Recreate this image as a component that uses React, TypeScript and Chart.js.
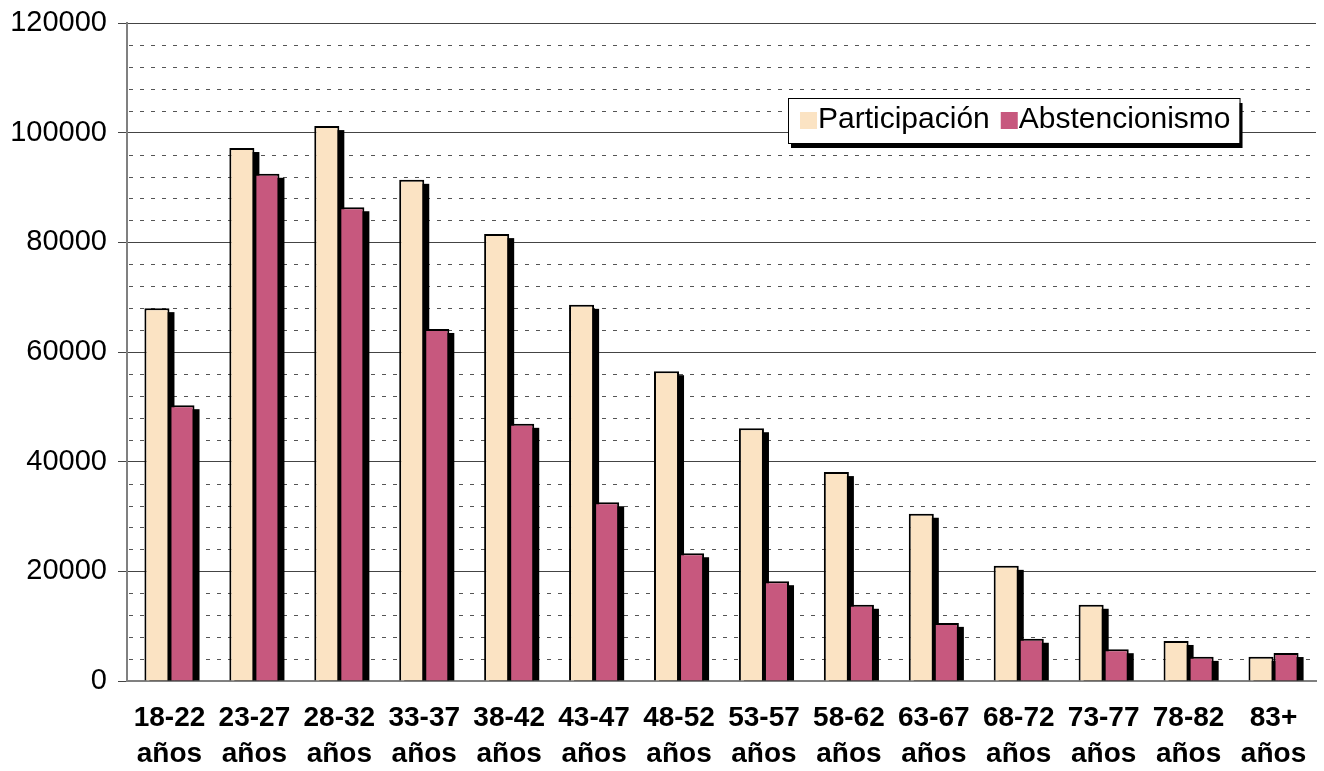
import { useEffect, useRef } from 'react';
import { Chart, registerables } from 'chart.js';

Chart.register(...registerables);

const categories: string[][] = [
  ['18-22', 'años'], ['23-27', 'años'], ['28-32', 'años'], ['33-37', 'años'],
  ['38-42', 'años'], ['43-47', 'años'], ['48-52', 'años'], ['53-57', 'años'],
  ['58-62', 'años'], ['63-67', 'años'], ['68-72', 'años'], ['73-77', 'años'],
  ['78-82', 'años'], ['83+', 'años'],
];
const participacion = [68000, 97200, 101200, 91400, 81500, 68600, 56500, 46100, 38100, 30500, 21000, 13900, 7300, 4400];
const abstencionismo = [50300, 92500, 86400, 64200, 46900, 32600, 23300, 18200, 13900, 10600, 7700, 5800, 4400, 5100];
const seriesNames = ['Participación', 'Abstencionismo'];
const seriesColors = ['#FBE3C3', '#C7587E'];
const yMin = 0;
const yMax = 120000;
const yMajorStep = 20000;
const yMinorStep = 4000;

const FONT = '"Liberation Sans", Arial, sans-serif';

const minorGridPlugin = {
  id: 'minorGrid',
  beforeDatasetsDraw(chart: any) {
    const { ctx, chartArea } = chart;
    const y = chart.scales.y;
    ctx.save();
    ctx.strokeStyle = '#555';
    ctx.lineWidth = 1;
    ctx.setLineDash([4, 7]);
    for (let v = yMin + yMinorStep; v < yMax; v += yMinorStep) {
      if (v % yMajorStep === 0) continue;
      const py = Math.round(y.getPixelForValue(v)) + 0.5;
      ctx.beginPath();
      ctx.moveTo(chartArea.left + 2, py);
      ctx.lineTo(chartArea.right, py);
      ctx.stroke();
    }
    ctx.restore();
  },
};

const shadowPlugin = {
  id: 'barShadow',
  beforeDatasetsDraw(chart: any) {
    const ctx = chart.ctx;
    ctx.save();
    ctx.fillStyle = '#000';
    chart.data.datasets.forEach((_d: any, i: number) => {
      const meta = chart.getDatasetMeta(i);
      meta.data.forEach((el: any) => {
        const { x, y, base, width } = el.getProps(['x', 'y', 'base', 'width'], true);
        const left = x - width / 2 + 5;
        const top = Math.min(y, base) + 4;
        const bottom = Math.max(y, base);
        if (bottom > top) ctx.fillRect(left, top, width, bottom - top);
      });
    });
    ctx.restore();
  },
};

const legendPlugin = {
  id: 'customLegend',
  afterDraw(chart: any) {
    const { ctx, chartArea } = chart;
    const left = chartArea.left + 661;
    const top = chartArea.top + 75;
    const h = 45;
    ctx.save();
    ctx.font = `30px ${FONT}`;
    const ds = chart.data.datasets;
    let x = left + 12;
    const items: any[] = [];
    ds.forEach((d: any) => {
      const w = ctx.measureText(d.label).width;
      items.push({ x, w, label: d.label, color: d.backgroundColor });
      x += 18 + w + 11;
    });
    const right = x - 11 + 9;
    ctx.fillStyle = '#000';
    ctx.fillRect(left + 3, top + 5, right - left, h);
    ctx.fillStyle = '#fff';
    ctx.fillRect(left, top, right - left, h);
    ctx.strokeStyle = '#000';
    ctx.lineWidth = 1;
    ctx.strokeRect(left + 0.5, top + 0.5, right - left, h);
    ctx.textBaseline = 'alphabetic';
    ctx.textAlign = 'left';
    items.forEach((it) => {
      ctx.fillStyle = it.color;
      ctx.fillRect(it.x, top + 14, 17, 17);
      ctx.fillStyle = '#000';
      ctx.fillText(it.label, it.x + 18, top + 30);
    });
    ctx.restore();
  },
};

export default function App() {
  const ref = useRef<HTMLCanvasElement | null>(null);
  useEffect(() => {
    if (!ref.current) return;
    const chart = new Chart(ref.current, {
      type: 'bar',
      data: {
        labels: categories,
        datasets: [
          {
            label: seriesNames[0],
            data: participacion,
            backgroundColor: seriesColors[0],
            borderColor: '#000',
            borderWidth: 2,
          },
          {
            label: seriesNames[1],
            data: abstencionismo,
            backgroundColor: seriesColors[1],
            borderColor: '#000',
            borderWidth: 2,
          },
        ],
      },
      options: {
        responsive: false,
        animation: false,
        devicePixelRatio: 1,
        layout: { padding: { top: 23, right: 8, bottom: 0, left: 0 } },
        plugins: {
          legend: { display: false },
          tooltip: { enabled: false },
        },
        datasets: {
          bar: { categoryPercentage: 0.59, barPercentage: 1 },
        },
        scales: {
          x: {
            grid: { display: false, drawTicks: false },
            border: { display: true, color: '#808080', width: 2 },
            ticks: {
              color: '#000',
              padding: 19,
              maxRotation: 0,
              autoSkip: false,
              font: { family: FONT, size: 28, weight: 'bold', lineHeight: 1.3 },
            },
            afterFit(scale: any) {
              scale.height = 90;
              scale.paddingLeft = 0;
              scale.paddingRight = 0;
            },
          },
          y: {
            min: yMin,
            max: yMax,
            grid: { color: '#444', lineWidth: 1, tickLength: 9, tickColor: '#444' },
            border: { display: true, color: '#808080', width: 2 },
            ticks: {
              stepSize: yMajorStep,
              color: '#000',
              padding: 11,
              font: { family: FONT, size: 29 },
              callback: (v: any) => String(v),
            },
            afterFit(scale: any) {
              scale.width = 127;
              scale.paddingTop = 0;
              scale.paddingBottom = 0;
            },
          },
        },
      },
      plugins: [minorGridPlugin, shadowPlugin, legendPlugin],
    });
    return () => chart.destroy();
  }, []);
  return (
    <div style={{ position: 'fixed', left: 0, top: 0, width: 1324, height: 771, background: '#fff' }}>
      <canvas ref={ref} width={1324} height={771} style={{ display: 'block' }} />
    </div>
  );
}
